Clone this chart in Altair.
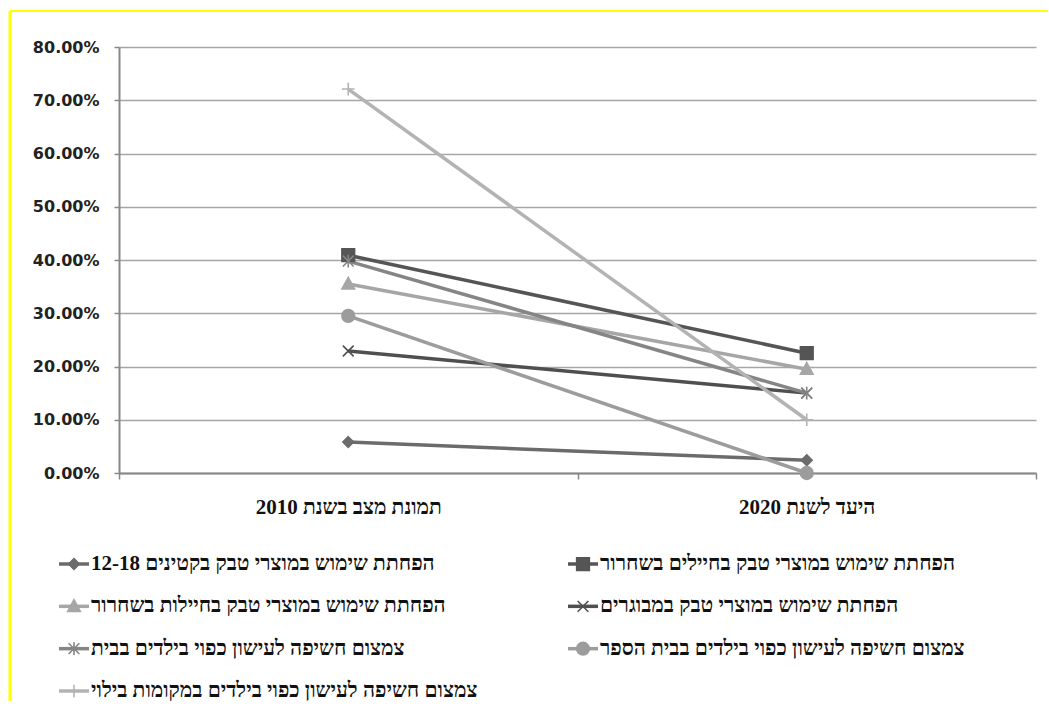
import json
import altair as alt
import pandas as pd

# ---- data -------------------------------------------------------------
categories = ["תמונת מצב בשנת 2010", "היעד לשנת 2020"]
series = [
    "הפחתת שימוש במוצרי טבק בקטינים 12-18",
    "הפחתת שימוש במוצרי טבק בחיילים בשחרור",
    "הפחתת שימוש במוצרי טבק בחיילות בשחרור",
    "הפחתת שימוש במוצרי טבק במבוגרים",
    "צמצום חשיפה לעישון כפוי בילדים בבית",
    "צמצום חשיפה לעישון כפוי בילדים בבית הספר",
    "צמצום חשיפה לעישון כפוי בילדים במקומות בילוי",
]
values_2010 = [0.058, 0.409, 0.355, 0.229, 0.398, 0.295, 0.721]
values_2020 = [0.024, 0.225, 0.195, 0.150, 0.150, 0.000, 0.100]
legend_row = [0, 0, 1, 1, 2, 2, 3]
legend_col = [0, 1, 0, 1, 0, 1, 0]
y_ticks = [0.0, 0.1, 0.2, 0.3, 0.4, 0.5, 0.6, 0.7, 0.8]

# ---- styles -----------------------------------------------------------
colors = ["#6b6b6b", "#555555", "#a6a6a6", "#4f4f4f", "#858585", "#9c9c9c", "#b3b3b3"]
shapes = [
    "M0,-0.85L0.85,0L0,0.85L-0.85,0Z",
    "M-1,-1L1,-1L1,1L-1,1Z",
    "M0,-1.05L1,0.8L-1,0.8Z",
    "M-0.85,-0.85L0.85,0.85M-0.85,0.85L0.85,-0.85",
    "M-0.85,-0.85L0.85,0.85M-0.85,0.85L0.85,-0.85M0,-1L0,1",
    "circle",
    "M-1,0L1,0M0,-1L0,1",
]

rows = []
for i, s in enumerate(series):
    rows.append({"series": s, "idx": 0, "value": values_2010[i], "order": i})
    rows.append({"series": s, "idx": 1, "value": values_2020[i], "order": i})
df = pd.DataFrame(rows)

leg_df = pd.DataFrame({"series": series, "row": legend_row, "col": legend_col})

color_scale = alt.Scale(domain=series, range=colors)
shape_scale = alt.Scale(domain=series, range=shapes)

label_expr = json.dumps(categories, ensure_ascii=False) + "[datum.value]"

x_scale = alt.Scale(domain=[-0.5, 1.5], nice=False, zero=False)
y_scale = alt.Scale(domain=[0, 0.8], nice=False)

base = alt.Chart(df)

lines = base.mark_line(strokeWidth=3.5).encode(
    x=alt.X("idx:Q", scale=x_scale,
            axis=alt.Axis(values=[0, 1], labelExpr=label_expr, ticks=False, grid=False,
                          domain=True, domainColor="#888888", domainWidth=2,
                          labelFont="Liberation Serif", labelFontWeight="bold",
                          labelFontSize=21, labelColor="#111111", labelPadding=23,
                          labelLimit=500, title=None, orient="bottom")),
    y=alt.Y("value:Q", scale=y_scale,
            axis=alt.Axis(values=y_ticks, format=".2%", grid=True, gridColor="#a6a6a6",
                          gridWidth=1.5, domainColor="#888888", domainWidth=2,
                          tickColor="#888888", tickSize=5, tickWidth=1.5,
                          labelFont="DejaVu Sans", labelFontWeight="bold", labelFontSize=16,
                          labelColor="#222222", labelPadding=15, title=None)),
    color=alt.Color("series:N", scale=color_scale, legend=None),
    detail="order:O",
)

points = base.mark_point(filled=True, size=160, strokeWidth=1.6, opacity=1).encode(
    x=alt.X("idx:Q", scale=x_scale,
            axis=alt.Axis(values=[-0.5, 0.5, 1.5], labels=False, ticks=True, tickSize=6,
                          tickColor="#888888", tickWidth=1.5, grid=False, domain=False,
                          title=None, orient="bottom")),
    y=alt.Y("value:Q", scale=y_scale),
    shape=alt.Shape("series:N", scale=shape_scale, legend=None),
    fill=alt.Fill("series:N", scale=color_scale, legend=None),
    stroke=alt.Stroke("series:N", scale=color_scale, legend=None),
)

border_data = alt.Data(values=[{"k": 1}])
border_top = alt.Chart(border_data).mark_rule(color="#ffff00", strokeWidth=2).encode(
    x=alt.value(-109), x2=alt.value(929), y=alt.value(-36), y2=alt.value(-36))
border_left = alt.Chart(border_data).mark_rule(color="#ffff00", strokeWidth=3).encode(
    x=alt.value(-109), x2=alt.value(-109), y=alt.value(-36), y2=alt.value(654))

top = alt.layer(lines, points, border_top, border_left).resolve_axis(x="independent").properties(
    width=917, height=426)

# ---- manual legend ----------------------------------------------------
lbase = alt.Chart(leg_df)
lx = alt.X("col:Q", scale=alt.Scale(domain=[0, 1], nice=False), axis=None)
ly = alt.Y("row:Q", scale=alt.Scale(domain=[0, 3], reverse=True, nice=False), axis=None)

l_rules = lbase.mark_rule(strokeWidth=3.5, xOffset=-60, x2Offset=-30).encode(
    x=lx, x2="col:Q", y=ly,
    color=alt.Color("series:N", scale=color_scale, legend=None))
l_points = lbase.mark_point(filled=True, size=160, strokeWidth=1.6, opacity=1, xOffset=-45).encode(
    x=lx, y=ly,
    shape=alt.Shape("series:N", scale=shape_scale, legend=None),
    fill=alt.Fill("series:N", scale=color_scale, legend=None),
    stroke=alt.Stroke("series:N", scale=color_scale, legend=None))
l_text = lbase.mark_text(align="left", baseline="middle", xOffset=-28, font="Liberation Serif",
                         fontWeight="bold", fontSize=21, color="#111111").encode(
    x=lx, y=ly, text="series:N")

legend = alt.layer(l_rules, l_points, l_text).properties(width=509, height=127)

chart = alt.vconcat(top, legend, spacing=91, bounds="flush").resolve_scale(
    x="independent", y="independent"
).properties(
    padding={"left": 8, "top": 9, "right": 0, "bottom": 0}
).configure(background="white", view=alt.ViewConfig(stroke=None))

chart.save("out.html", embed_options={"renderer": "svg", "actions": False})
